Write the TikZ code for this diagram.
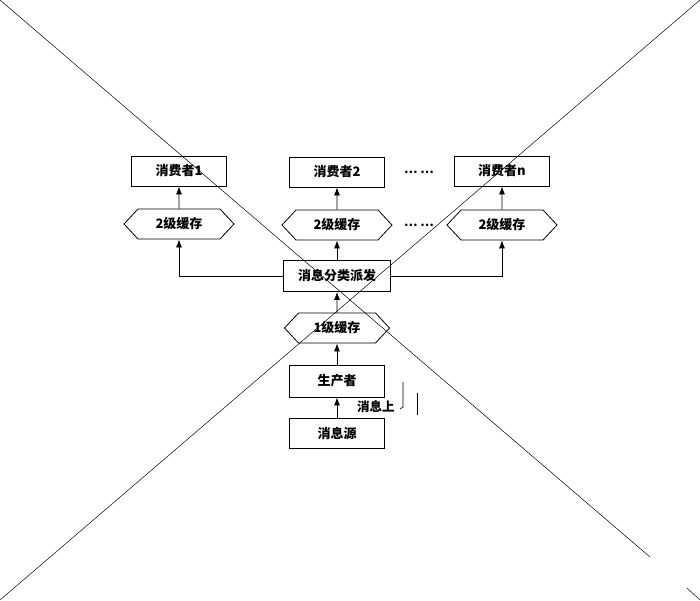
\documentclass[tikz,border=0pt]{standalone}
\usepackage{fontspec}
\newfontfamily\cjk{Noto Sans CJK SC}
\usetikzlibrary{shapes.symbols,arrows.meta}
\begin{document}
\begin{tikzpicture}[x=1pt,y=-1pt]
\tikzstyle{b}=[draw,rectangle,minimum width=95pt,minimum height=30pt,inner sep=1pt,line width=0.8pt,font=\cjk\bfseries\fontsize{13}{15}\selectfont]
\tikzstyle{h}=[b,signal,signal to=west and east,signal pointer angle=94,minimum width=110pt]
\tikzstyle{a}=[-{Latex[length=8pt,width=6pt]},line width=0.8pt]
\useasboundingbox (0,0) rectangle (700,600);
% crossing lines over the page
\draw[line width=0.5pt] (0,0) -- (650,557) (687,588) -- (700,600);
\draw[line width=0.5pt] (700,0) -- (0,600);
\node[b] (c1) at (179,171) {消费者1};
\node[b] (c2) at (337,172) {消费者2};
\node[b] (cn) at (502,171) {消费者n};
\node[h] (h1) at (179,224) {2级缓存};
\node[h] (h2) at (337,225) {2级缓存};
\node[h] (hn) at (502,225) {2级缓存};
\node[font=\cjk\bfseries\fontsize{12}{14}\selectfont] (d1) at (419,172) {… …};
\node[font=\cjk\bfseries\fontsize{12}{14}\selectfont] (d2) at (419,225) {… …};
\node[b,minimum width=107pt,minimum height=31pt] (m) at (337,276) {消息分类派发};
\node[h,minimum width=105pt] (h0) at (337,328) {1级缓存};
\node[b,minimum height=32pt] (p) at (337,381) {生产者};
\node[b] (s) at (337,433) {消息源};
\draw[a] (h1) -- (c1);
\draw[a] (h2) -- (c2);
\draw[a] (hn) -- (cn);
\draw[a] (m.west) -| (h1.south);
\draw[a] (m.east) -| (hn.south);
\draw[a] (m) -- (h2);
\draw[a] (h0) -- (m);
\draw[a] (p) -- (h0);
\draw[a] (s) -- (p);
\node[right,inner sep=0pt,font=\cjk\bfseries\fontsize{12.5}{14}\selectfont] (l) at (357,407) {消息上};
\draw[line width=0.6pt] (403,382) -- (403,407) -- (400,409);
\draw[line width=0.6pt] (417,393) -- (417,415);
\end{tikzpicture}
\end{document}
